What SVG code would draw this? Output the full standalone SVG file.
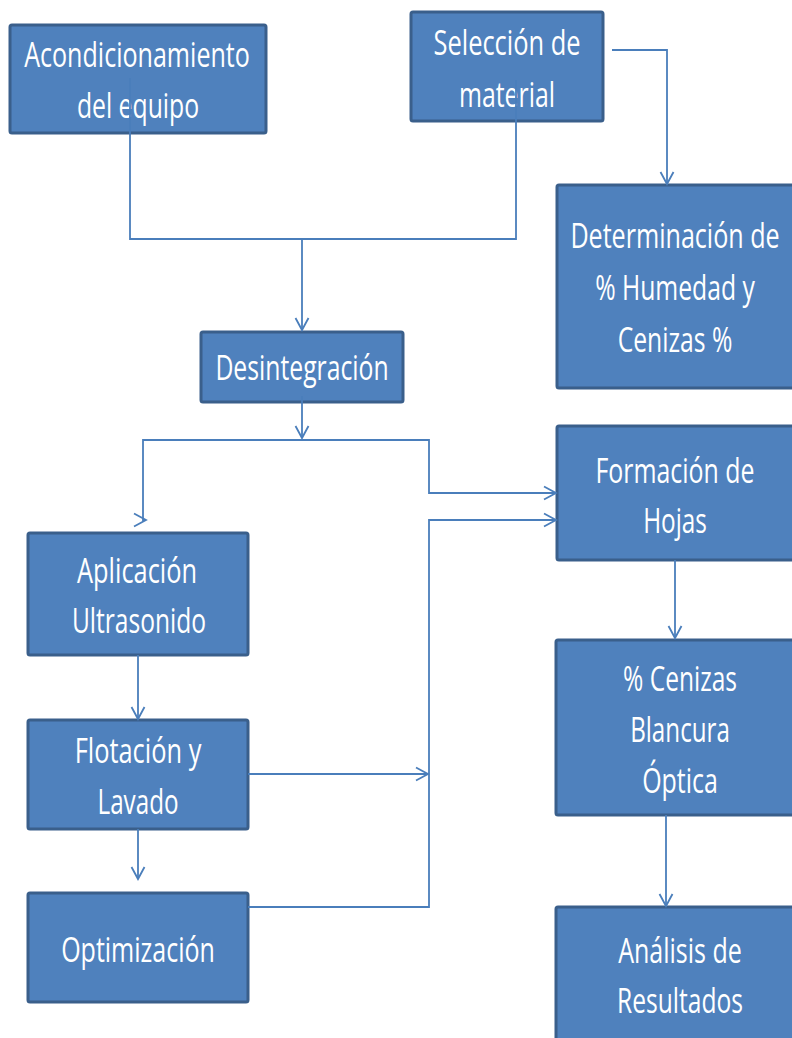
<svg xmlns="http://www.w3.org/2000/svg" width="792" height="1038" viewBox="0 0 792 1038">
  <style>
    .box { fill: #4F81BD; stroke: #3A5F8B; stroke-width: 3; }
    .lbl { fill: #FFFFFF; font-family: "Open Sans", "Noto Sans", "Liberation Sans", sans-serif; font-size: 35px; text-anchor: middle; }
    .wire { fill: none; stroke: #4A7EBB; stroke-width: 1.8; }
    .arrow { marker-end: url(#open); }
  </style>
  <defs>
    <!-- open chevron arrowhead shared by all connectors -->
    <marker id="open" markerUnits="userSpaceOnUse" markerWidth="16" markerHeight="16" refX="13" refY="7.5" orient="auto" viewBox="0 0 16 15">
      <path d="M1,1 L13,7.5 L1,14" fill="none" stroke="#4A7EBB" stroke-width="1.8"/>
    </marker>
  </defs>
  <rect width="792" height="1038" fill="#FFFFFF"/>

  <!-- labels use a condensed look: each line is squeezed horizontally about its centre -->
  <g id="acondicionamiento">
    <rect class="box" x="10" y="25" width="256" height="108" rx="2"/>
    <text class="lbl" transform="translate(137,67) scale(0.75,1)" textLength="301" lengthAdjust="spacingAndGlyphs">Acondicionamiento</text>
    <text class="lbl" transform="translate(138,118) scale(0.75,1)" textLength="163" lengthAdjust="spacingAndGlyphs">del equipo</text>
  </g>
  <g id="seleccion">
    <rect class="box" x="411" y="12" width="192" height="109" rx="2"/>
    <text class="lbl" transform="translate(507,55) scale(0.75,1)" textLength="196" lengthAdjust="spacingAndGlyphs">Selección de</text>
    <text class="lbl" transform="translate(507,107) scale(0.75,1)" textLength="128" lengthAdjust="spacingAndGlyphs">material</text>
  </g>
  <g id="determinacion">
    <rect class="box" x="557" y="185" width="237" height="203" rx="2"/>
    <text class="lbl" transform="translate(675,248) scale(0.75,1)" textLength="279" lengthAdjust="spacingAndGlyphs">Determinación de</text>
    <text class="lbl" transform="translate(675,300) scale(0.75,1)" textLength="213" lengthAdjust="spacingAndGlyphs">% Humedad y</text>
    <text class="lbl" transform="translate(675,352) scale(0.75,1)" textLength="153" lengthAdjust="spacingAndGlyphs">Cenizas %</text>
  </g>
  <g id="desintegracion">
    <rect class="box" x="201" y="332" width="202" height="70" rx="2"/>
    <text class="lbl" transform="translate(302,380) scale(0.75,1)" textLength="231" lengthAdjust="spacingAndGlyphs">Desintegración</text>
  </g>
  <g id="formacion">
    <rect class="box" x="557" y="426" width="237" height="134" rx="2"/>
    <text class="lbl" transform="translate(675,483) scale(0.75,1)" textLength="212" lengthAdjust="spacingAndGlyphs">Formación de</text>
    <text class="lbl" transform="translate(675,533) scale(0.75,1)" textLength="85" lengthAdjust="spacingAndGlyphs">Hojas</text>
  </g>
  <g id="aplicacion">
    <rect class="box" x="28" y="533" width="220" height="122" rx="2"/>
    <text class="lbl" transform="translate(137,583) scale(0.75,1)" textLength="160" lengthAdjust="spacingAndGlyphs">Aplicación</text>
    <text class="lbl" transform="translate(139,633) scale(0.75,1)" textLength="179" lengthAdjust="spacingAndGlyphs">Ultrasonido</text>
  </g>
  <g id="flotacion">
    <rect class="box" x="28" y="720" width="220" height="109" rx="2"/>
    <text class="lbl" transform="translate(138,763) scale(0.75,1)" textLength="169" lengthAdjust="spacingAndGlyphs">Flotación y</text>
    <text class="lbl" transform="translate(138,814) scale(0.75,1)" textLength="108" lengthAdjust="spacingAndGlyphs">Lavado</text>
  </g>
  <g id="optimizacion">
    <rect class="box" x="28" y="893" width="220" height="109" rx="2"/>
    <text class="lbl" transform="translate(138,962) scale(0.75,1)" textLength="205" lengthAdjust="spacingAndGlyphs">Optimización</text>
  </g>
  <g id="cenizas">
    <rect class="box" x="556" y="640" width="238" height="175" rx="2"/>
    <text class="lbl" transform="translate(680,691) scale(0.75,1)" textLength="152" lengthAdjust="spacingAndGlyphs">% Cenizas</text>
    <text class="lbl" transform="translate(680,742) scale(0.75,1)" textLength="133" lengthAdjust="spacingAndGlyphs">Blancura</text>
    <text class="lbl" transform="translate(680,793) scale(0.75,1)" textLength="101" lengthAdjust="spacingAndGlyphs">Óptica</text>
  </g>
  <g id="analisis">
    <rect class="box" x="556" y="907" width="238" height="150" rx="2"/>
    <text class="lbl" transform="translate(680,963) scale(0.75,1)" textLength="165" lengthAdjust="spacingAndGlyphs">Análisis de</text>
    <text class="lbl" transform="translate(680,1013) scale(0.75,1)" textLength="168" lengthAdjust="spacingAndGlyphs">Resultados</text>
  </g>

  <g id="connectors">
    <path class="wire" d="M130,78 V239 H516 V80"/>
    <path class="wire arrow" d="M302,239 V330"/>
    <path class="wire arrow" d="M612,50 H667 V184"/>
    <path class="wire arrow" d="M302,396 V438"/>
    <path class="wire arrow" d="M302,440 H143 V520 H146"/>
    <path class="wire arrow" d="M302,440 H429 V493 H556"/>
    <path class="wire arrow" d="M248,907 H429 V520 H556"/>
    <path class="wire arrow" d="M248,774 H428"/>
    <path class="wire arrow" d="M138,655 V719"/>
    <path class="wire arrow" d="M138,829 V879"/>
    <path class="wire arrow" d="M675,560 V638"/>
    <path class="wire arrow" d="M666,815 V906"/>
  </g>
</svg>
